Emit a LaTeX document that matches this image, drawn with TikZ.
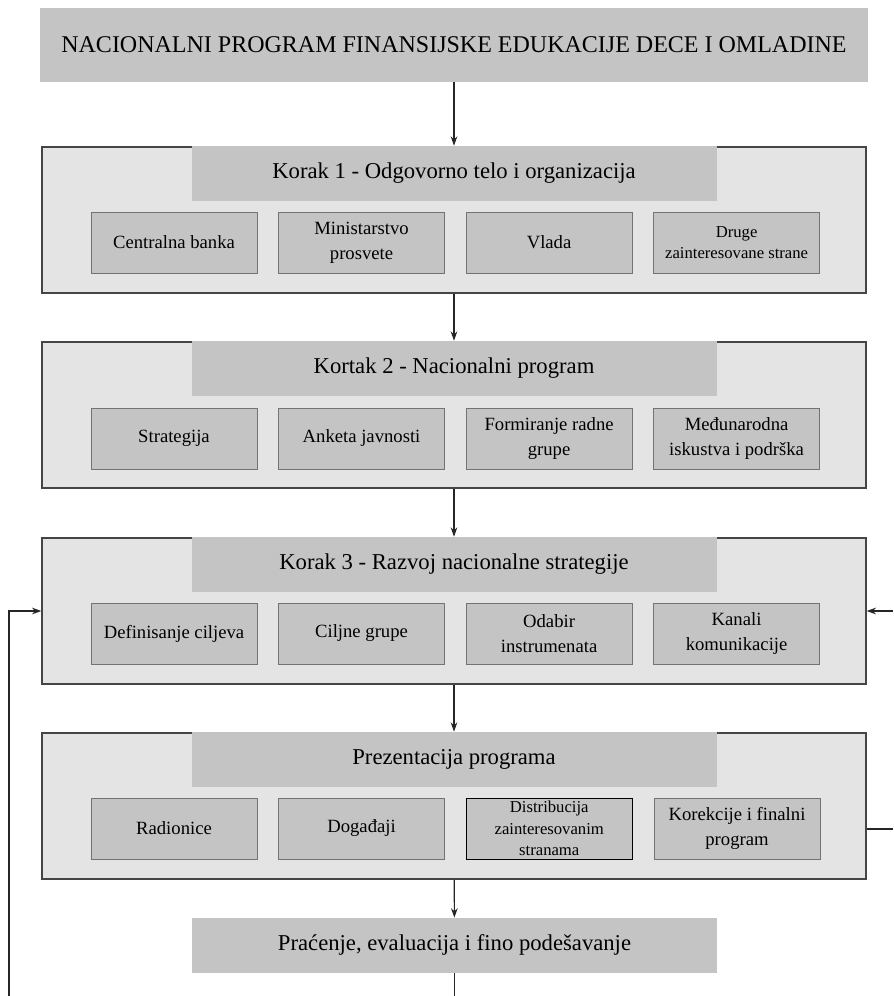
\documentclass[tikz,border=0pt]{standalone}
\usepackage{fontspec}
\setmainfont{LiberationSerif}[Extension=.ttf, UprightFont=*-Regular, BoldFont=*-Bold]
\usetikzlibrary{positioning,arrows.meta}
\definecolor{outerfill}{HTML}{E4E4E4}
\definecolor{boxfill}{HTML}{C4C4C4}
\definecolor{linegray}{HTML}{454545}

\begin{document}
\begin{tikzpicture}[x=0.75pt,y=-0.75pt]
  	\tikzstyle{banner}=[rectangle, fill=boxfill, minimum width=621pt, minimum height=55.5pt, font=\fontsize{18}{20}\selectfont]
  	\tikzstyle{stage}=[rectangle, draw=linegray, line width=1pt, fill=outerfill, minimum width=618pt, minimum height=109.5pt]
  	\tikzstyle{head}=[rectangle, fill=boxfill, anchor=north, yshift=0.5pt, minimum width=393.75pt, minimum height=41.25pt, font=\fontsize{17}{19}\selectfont]
  	\tikzstyle{sub}=[rectangle, draw=black!55, line width=0.4pt, fill=boxfill, minimum width=124.5pt, minimum height=45.75pt, inner sep=1pt, align=center, font=\fontsize{14}{18.5}\selectfont, node distance=15.75pt]
  	\tikzstyle{small}=[font=\fontsize{12.5}{16}\selectfont]
  	\tikzstyle{connect}=[-{Stealth[length=7pt,width=5pt]}, line width=0.9pt, draw=black!85]
  	\tikzstyle{plain}=[line width=0.9pt, draw=black!85]
  	
  	\useasboundingbox (0,0) rectangle (893,996);
  	
  	\node[banner] (prog) at (454,45) {NACIONALNI PROGRAM FINANSIJSKE EDUKACIJE DECE I OMLADINE};
  	
  	% korak 1
  	\node[stage] (k1) at (454,220) {};
  	\node[head] (h1) at (k1.north) {Korak 1 - Odgovorno telo i organizacija};
  	\node[sub] (cb) at (174,242.5) {Centralna banka};
  	\node[sub] (mp) [right=of cb] {Ministarstvo\\prosvete};
  	\node[sub] (vl) [right=of mp] {Vlada};
  	\node[sub, small] (dz) [right=of vl] {Druge\\zainteresovane strane};
  	
  	% korak 2
  	\node[stage] (k2) at (454,415) {};
  	\node[head] (h2) at (k2.north) {Kortak 2 - Nacionalni program};
  	\node[sub] (st) at (174,438.5) {Strategija};
  	\node[sub] (aj) [right=of st] {Anketa javnosti};
  	\node[sub] (fr) [right=of aj] {Formiranje radne\\grupe};
  	\node[sub] (mi) [right=of fr] {Međunarodna\\iskustva i podrška};
  	
  	% korak 3
  	\node[stage] (k3) at (454,611) {};
  	\node[head] (h3) at (k3.north) {Korak 3 - Razvoj nacionalne strategije};
  	\node[sub] (dc) at (174,633.5) {Definisanje ciljeva};
  	\node[sub] (cg) [right=of dc] {Ciljne grupe};
  	\node[sub] (oi) [right=of cg] {Odabir\\instrumenata};
  	\node[sub] (kk) [right=of oi] {Kanali\\komunikacije};
  	
  	% prezentacija
  	\node[stage] (k4) at (454,806) {};
  	\node[head] (h4) at (k4.north) {Prezentacija programa};
  	\node[sub] (ra) at (174,828.5) {Radionice};
  	\node[sub] (dg) [right=of ra] {Događaji};
  	\node[sub, small, draw=black, line width=0.7pt] (ds) [right=of dg] {Distribucija\\zainteresovanim\\stranama};
  	\node[sub] (kf) [right=of ds] {Korekcije i finalni\\program};
  	
  	\node[head, anchor=center, yshift=0pt] (fin) at (454.5,946) {Praćenje, evaluacija i fino podešavanje};
  	
  	\coordinate (lret) at (9,996);
  	\coordinate (rin) at (893,611);
  	\coordinate (rout) at (893,829);
  	\coordinate (bot) at (454.5,996);
  	
  	\path (prog) edge [connect] (h1)
  	(k1) edge [connect] (h2)
  	(k2) edge [connect] (h3)
  	(k3) edge [connect] (h4)
  	(k4) edge [connect] (fin);
  	\draw[plain] (fin) -- (bot);
  	\draw[connect] (lret) |- (k3.west);
  	\draw[connect] (rin) -- (k3.east);
  	\draw[plain] (k4.east |- rout) -- (rout);
\end{tikzpicture}
\end{document}
